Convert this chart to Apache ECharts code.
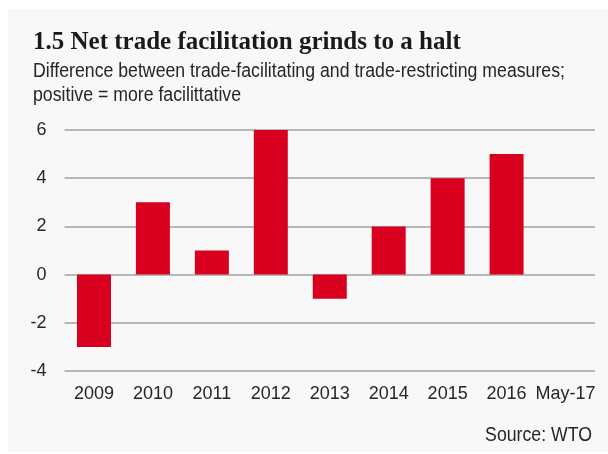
<!DOCTYPE html>
<html>
<head>
<meta charset="utf-8">
<script src="https://cdn.jsdelivr.net/npm/echarts@6/dist/echarts.min.js"></script>
<style>
  html, body { margin: 0; padding: 0; background: #fff; }
  #chart { width: 608px; height: 454px; }
</style>
</head>
<body>
<div id="chart"></div>
<script>
var years = ['2009', '2010', '2011', '2012', '2013', '2014', '2015', '2016', 'May-17'];
var netMeasures = [-3, 3, 1, 6, -1, 2, 4, 5, 0];
var yTicks = { min: -4, max: 6, step: 2 };

var subtitleLines = [
  'Difference between trade-facilitating and trade-restricting measures;',
  'positive = more facilittative'
];
var sourceText = 'Source: WTO';

var sans = '"Liberation Sans", Arial, sans-serif';
var textColor = '#262626';
// the original uses a narrow sans; squeeze the regular one horizontally
var narrow = 0.885;

var chart = echarts.init(document.getElementById('chart'));
var option = {
  backgroundColor: '#ffffff',
  animation: false,
  graphic: [
    {
      type: 'rect',
      z: -10,
      silent: true,
      shape: { x: 8, y: 9, width: 600, height: 443 },
      style: { fill: '#f8f8f8' }
    },
    {
      type: 'text',
      x: 33,
      y: 59,
      scaleX: narrow,
      silent: true,
      style: {
        text: subtitleLines.join('\n'),
        fontFamily: sans,
        fontSize: 20,
        lineHeight: 24,
        fill: textColor,
        verticalAlign: 'top'
      }
    },
    {
      type: 'text',
      x: 592,
      y: 423,
      scaleX: narrow,
      silent: true,
      style: {
        text: sourceText,
        fontFamily: sans,
        fontSize: 20,
        lineHeight: 24,
        fill: textColor,
        align: 'right',
        verticalAlign: 'top'
      }
    }
  ],
  title: {
    text: '1.5 Net trade facilitation grinds to a halt',
    left: 33,
    top: 30,
    padding: 0,
    textStyle: {
      fontFamily: '"Liberation Serif", "DejaVu Serif", serif',
      fontWeight: 'bold',
      fontSize: 25,
      lineHeight: 25,
      color: '#1a1a1a'
    }
  },
  grid: {
    left: 64.5,
    right: 13,
    top: 130,
    bottom: 83
  },
  xAxis: {
    type: 'category',
    data: years,
    axisLine: { show: false },
    axisTick: { show: false },
    axisLabel: {
      interval: 0,
      margin: 14,
      fontFamily: sans,
      fontSize: 18,
      color: textColor
    }
  },
  yAxis: {
    type: 'value',
    min: yTicks.min,
    max: yTicks.max,
    interval: yTicks.step,
    axisLine: { show: false },
    axisTick: { show: false },
    axisLabel: {
      margin: 18,
      fontFamily: sans,
      fontSize: 18,
      color: textColor
    },
    splitLine: {
      lineStyle: { color: '#a3a3a3', width: 1.5 }
    }
  },
  series: [
    {
      type: 'bar',
      data: netMeasures,
      barWidth: 34,
      itemStyle: { color: '#d9001f' }
    }
  ]
};
chart.setOption(option);
</script>
</body>
</html>
